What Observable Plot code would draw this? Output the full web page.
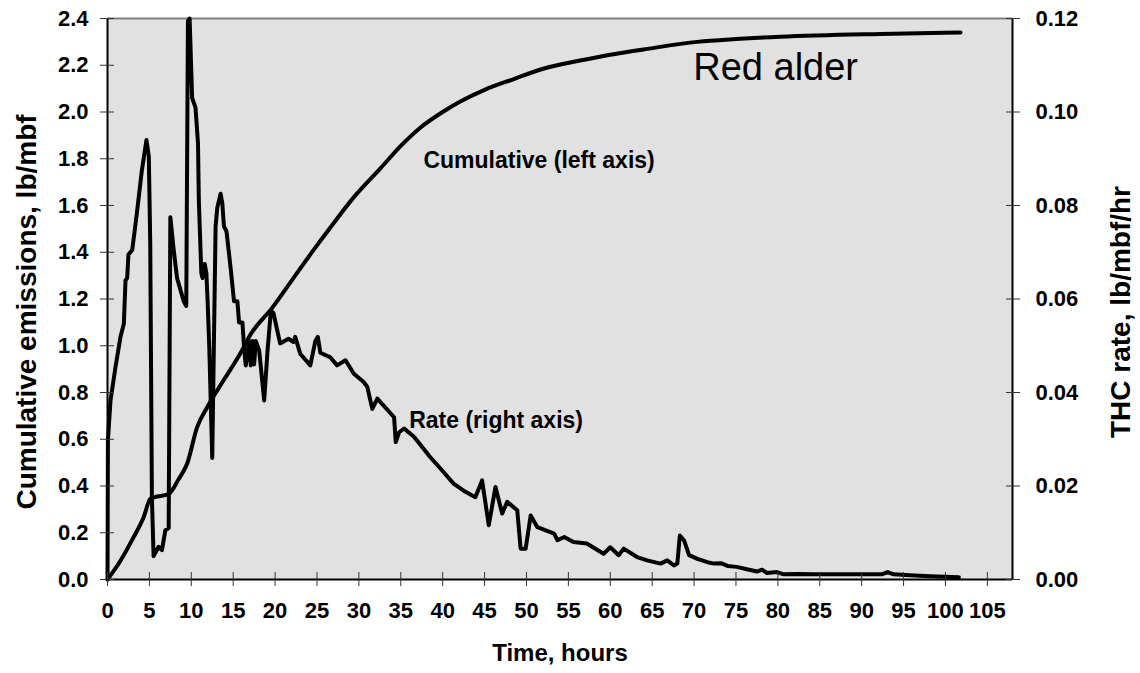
<!DOCTYPE html>
<html>
<head>
<meta charset="utf-8">
<script src="https://cdn.jsdelivr.net/npm/d3@7"></script>
<script src="https://cdn.jsdelivr.net/npm/@observablehq/plot@0.6"></script>
<style>
  html, body { margin: 0; padding: 0; background: #ffffff; }
  #chart svg { display: block; }
</style>
</head>
<body>
<div id="chart"></div>
<script>
// Cumulative emissions (left axis, lb/mbf)
const cumTime  = [0, 1.55, 3.1, 4.3, 5.1, 5.4, 7.3, 8.5, 9.5, 10.7, 11.9, 13.1, 14.7, 15.9, 17.1, 19.6, 22.0, 24.6, 26.6, 29.5, 32.6, 35.0, 37.4, 40.0, 42.1, 45.0, 48.4, 52.0, 56.4, 60.0, 64.4, 70.4, 75.0, 80.3, 92.2, 101.8];
const cumValue = [0, 0.08, 0.18, 0.265, 0.345, 0.35, 0.366, 0.43, 0.495, 0.652, 0.737, 0.809, 0.9, 0.97, 1.05, 1.16, 1.28, 1.41, 1.506, 1.64, 1.76, 1.855, 1.935, 2.0, 2.045, 2.095, 2.14, 2.185, 2.22, 2.245, 2.27, 2.30, 2.312, 2.322, 2.334, 2.34];

// THC rate (right axis, lb/mbf/hr)
const rateTime  = [0, 0.05, 0.36, 0.95, 1.55, 1.95, 2.15, 2.35, 2.5, 2.95, 3.5, 4.1, 4.65, 4.93, 5.1, 5.3, 5.5, 6.1, 6.5, 6.9, 7.3, 7.5, 7.9, 8.3, 9.1, 9.4, 9.6, 9.8, 10.1, 10.5, 10.8, 10.9, 11.2, 11.35, 11.6, 11.8, 11.95, 12.15, 12.5, 12.9, 13.1, 13.5, 13.7, 13.9, 14.2, 14.7, 15.1, 15.5, 15.7, 16.1, 16.3, 16.5, 16.9, 17.1, 17.3, 17.5, 17.7, 18.1, 18.7, 19.1, 19.5, 19.8, 20.6, 21.6, 22.2, 22.4, 23.0, 24.2, 24.8, 25.1, 25.4, 26.6, 27.4, 28.4, 29.4, 30.6, 31.0, 31.6, 32.2, 33.8, 34.2, 34.4, 34.8, 35.4, 36.6, 38.5, 40.1, 41.3, 42.5, 43.9, 44.7, 45.5, 46.3, 47.1, 47.7, 48.9, 49.3, 49.9, 50.5, 51.3, 52.3, 53.3, 53.7, 54.5, 55.6, 57.2, 59.2, 60.0, 61.0, 61.6, 63.2, 64.4, 66.0, 66.8, 67.6, 68.0, 68.3, 68.8, 69.4, 70.4, 71.6, 72.4, 73.2, 74.0, 75.1, 76.3, 77.5, 78.1, 78.7, 79.9, 80.7, 82.3, 84.3, 88.3, 92.4, 93.1, 93.8, 95.8, 98.2, 101.6];
const rateValue = [0, 0.0298, 0.0383, 0.0454, 0.0519, 0.0547, 0.064, 0.0645, 0.0695, 0.0705, 0.0783, 0.0875, 0.094, 0.0905, 0.072, 0.0175, 0.005, 0.007, 0.0063, 0.0105, 0.011, 0.0775, 0.0705, 0.0645, 0.0595, 0.0585, 0.1195, 0.12, 0.103, 0.101, 0.0933, 0.081, 0.0655, 0.0645, 0.0675, 0.0655, 0.0595, 0.0495, 0.026, 0.0755, 0.0795, 0.0825, 0.0805, 0.0755, 0.0745, 0.0665, 0.0595, 0.0595, 0.055, 0.055, 0.0495, 0.0458, 0.051, 0.0458, 0.051, 0.046, 0.051, 0.049, 0.0383, 0.049, 0.0575, 0.057, 0.0505, 0.0515, 0.0508, 0.0519, 0.0483, 0.0458, 0.051, 0.0519, 0.0485, 0.0475, 0.0458, 0.0469, 0.044, 0.0422, 0.0412, 0.0365, 0.0387, 0.0355, 0.0347, 0.0294, 0.0315, 0.0323, 0.0305, 0.0262, 0.023, 0.0205, 0.019, 0.0176, 0.0212, 0.0116, 0.0198, 0.0141, 0.0166, 0.0148, 0.0066, 0.0066, 0.0137, 0.0112, 0.0105, 0.0098, 0.0084, 0.0091, 0.008, 0.0077, 0.0055, 0.0069, 0.0052, 0.0066, 0.0048, 0.0041, 0.0034, 0.0041, 0.003, 0.0034, 0.0094, 0.0084, 0.0052, 0.0044, 0.0037, 0.0034, 0.0035, 0.0029, 0.0027, 0.0022, 0.0017, 0.0021, 0.0014, 0.0016, 0.0011, 0.0012, 0.0011, 0.0011, 0.0011, 0.0016, 0.0011, 0.0009, 0.0007, 0.0005];

// Axis ticks and labels
const xTicks = [0, 5, 10, 15, 20, 25, 30, 35, 40, 45, 50, 55, 60, 65, 70, 75, 80, 85, 90, 95, 100, 105];
const leftTicks = [0, 0.2, 0.4, 0.6, 0.8, 1.0, 1.2, 1.4, 1.6, 1.8, 2.0, 2.2, 2.4];
const rightTicks = [0, 0.02, 0.04, 0.06, 0.08, 0.10, 0.12];
const xMax = 108;
const leftMax = 2.4;
const rightMax = 0.12;
const ratio = leftMax / rightMax; // right-axis units mapped onto the left-axis scale

const xTitle = "Time, hours";
const leftTitle = "Cumulative emissions, lb/mbf";
const rightTitle = "THC rate, lb/mbf/hr";
const seriesLabels = [
  {t: 37.7, v: 1.794, label: "Cumulative (left axis)"},
  {t: 36.0, v: 0.68, label: "Rate (right axis)"}
];
const speciesLabel = [{t: 69.9, v: 2.19, label: "Red alder"}];

const cumData = cumTime.map((t, i) => ({t, v: cumValue[i]}));
const rateData = rateTime.map((t, i) => ({t, r: rateValue[i]}));

const font = "'Liberation Sans', Arial, Helvetica, sans-serif";

const chart = Plot.plot({
  width: 1140,
  height: 673,
  marginLeft: 107,
  marginRight: 128,
  marginTop: 18,
  marginBottom: 94,
  style: {fontFamily: font, fontSize: "22px", fontWeight: "bold", color: "#000", background: "#fff", overflow: "visible"},
  x: {domain: [0, xMax]},
  y: {domain: [0, leftMax]},
  marks: [
    Plot.frame({fill: "#e1e1e1", stroke: null}),
    Plot.ruleY([leftMax], {stroke: "#808080", strokeWidth: 2}),
    Plot.ruleX([xMax], {stroke: "#000", strokeWidth: 2}),
    Plot.line(rateData, {x: "t", y: d => d.r * ratio, stroke: "#000", strokeWidth: 4}),
    Plot.line(cumData, {x: "t", y: "v", stroke: "#000", strokeWidth: 4, curve: "monotone-x"}),
    Plot.ruleX([0], {stroke: "#000", strokeWidth: 2}),
    Plot.ruleY([0], {stroke: "#000", strokeWidth: 2}),
    Plot.axisX(xTicks, {anchor: "bottom", tickSize: 14, dy: -7, tickPadding: 16, label: null, stroke: "#333", fontSize: 22, fontWeight: "bold", fill: "#000"}),
    Plot.axisY(leftTicks, {anchor: "left", tickSize: 14, dx: 7, tickPadding: 12, label: null, tickFormat: d => d.toFixed(1), stroke: "#333", fontSize: 22, fontWeight: "bold", fill: "#000"}),
    Plot.axisY(rightTicks.map(v => v * ratio), {anchor: "right", tickSize: 14, dx: -7, tickPadding: 16, label: null, tickFormat: d => (d / ratio).toFixed(2), stroke: "#333", fontSize: 22, fontWeight: "bold", fill: "#000"}),
    Plot.text([xTitle], {frameAnchor: "bottom", textAnchor: "middle", dy: 74, lineAnchor: "middle", fontSize: 24, fontWeight: "bold", fill: "#000"}),
    Plot.text([leftTitle], {frameAnchor: "left", textAnchor: "middle", dx: -80, dy: 13, rotate: -90, lineAnchor: "middle", fontSize: 28, fontWeight: "bold", fill: "#000"}),
    Plot.text([rightTitle], {frameAnchor: "right", textAnchor: "middle", dx: 109, dy: 13, rotate: -90, lineAnchor: "middle", fontSize: 28, fontWeight: "bold", fill: "#000"}),
    Plot.text(seriesLabels, {x: "t", y: "v", text: "label", textAnchor: "start", lineAnchor: "middle", fontSize: 23, fontWeight: "bold", fill: "#000"}),
    Plot.text(speciesLabel, {x: "t", y: "v", text: "label", textAnchor: "start", lineAnchor: "middle", fontSize: 38, fontWeight: "normal", fill: "#000"})
  ]
});

document.getElementById("chart").appendChild(chart);
</script>
</body>
</html>
